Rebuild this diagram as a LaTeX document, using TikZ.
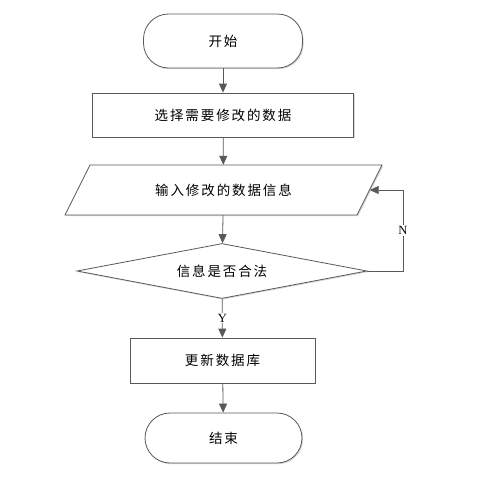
\documentclass[tikz,border=0pt]{standalone}
\usepackage{fontspec}
\setmainfont{Liberation Serif}
\newfontfamily\cjk[LetterSpace=14]{Noto Sans CJK SC}
\usetikzlibrary{shapes.geometric,arrows.meta,shadows,calc}
\definecolor{linec}{HTML}{595959}
\tikzset{
  shd/.style={drop shadow={shadow xshift=1.2pt,shadow yshift=-1.2pt,opacity=0.25,fill=black!60}},
  base/.style={draw=linec,line width=0.8pt,fill=white,font=\cjk\fontsize{13.5}{16}\selectfont,inner sep=0pt,shd},
  term/.style={base,rectangle,rounded corners=25pt},
  proc/.style={base,rectangle},
  deci/.style={base,diamond,aspect=5},
  arr/.style={draw=linec,line width=0.8pt,-{Triangle[length=9pt,width=8pt]}},
  lab/.style={fill=white,inner sep=1pt,font=\fontsize{12.5}{14}\selectfont}
}
\begin{document}
\begin{tikzpicture}[x=1pt,y=-1pt]
\useasboundingbox (0,0) rectangle (491,477);
\node[term,minimum width=159pt,minimum height=54pt] (start) at (223,41) {开始};
\node[proc,minimum width=261pt,minimum height=44pt] (p1) at (223,115) {选择需要修改的数据};
\path[draw=linec,line width=0.8pt,fill=white,shd] (65,215) -- (90,165) -- (382,165) -- (357,215) -- cycle;
\node[rectangle,minimum width=292pt,minimum height=50pt,inner sep=0pt,font=\cjk\fontsize{13.5}{16}\selectfont] (in) at (223.5,190) {输入修改的数据信息};
\node[deci,minimum width=290pt,minimum height=55pt] (dec) at (222,271) {信息是否合法};
\node[proc,minimum width=185pt,minimum height=45pt] (p2) at (222.5,360.5) {更新数据库};
\node[term,minimum width=157pt,minimum height=50pt] (end) at (223.5,438) {结束};
\coordinate (nturn) at (403,271);
\draw[arr] (start) -- (p1);
\draw[arr] (p1) -- (in);
\draw[arr] (in) -- (dec);
\draw[arr] (dec) -- node[lab] {Y} (p2);
\draw[arr] (p2) -- (end);
\draw[arr] (dec.east) -- (nturn) |- node[lab,pos=0.25] {N} (in.east);
\end{tikzpicture}
\end{document}
